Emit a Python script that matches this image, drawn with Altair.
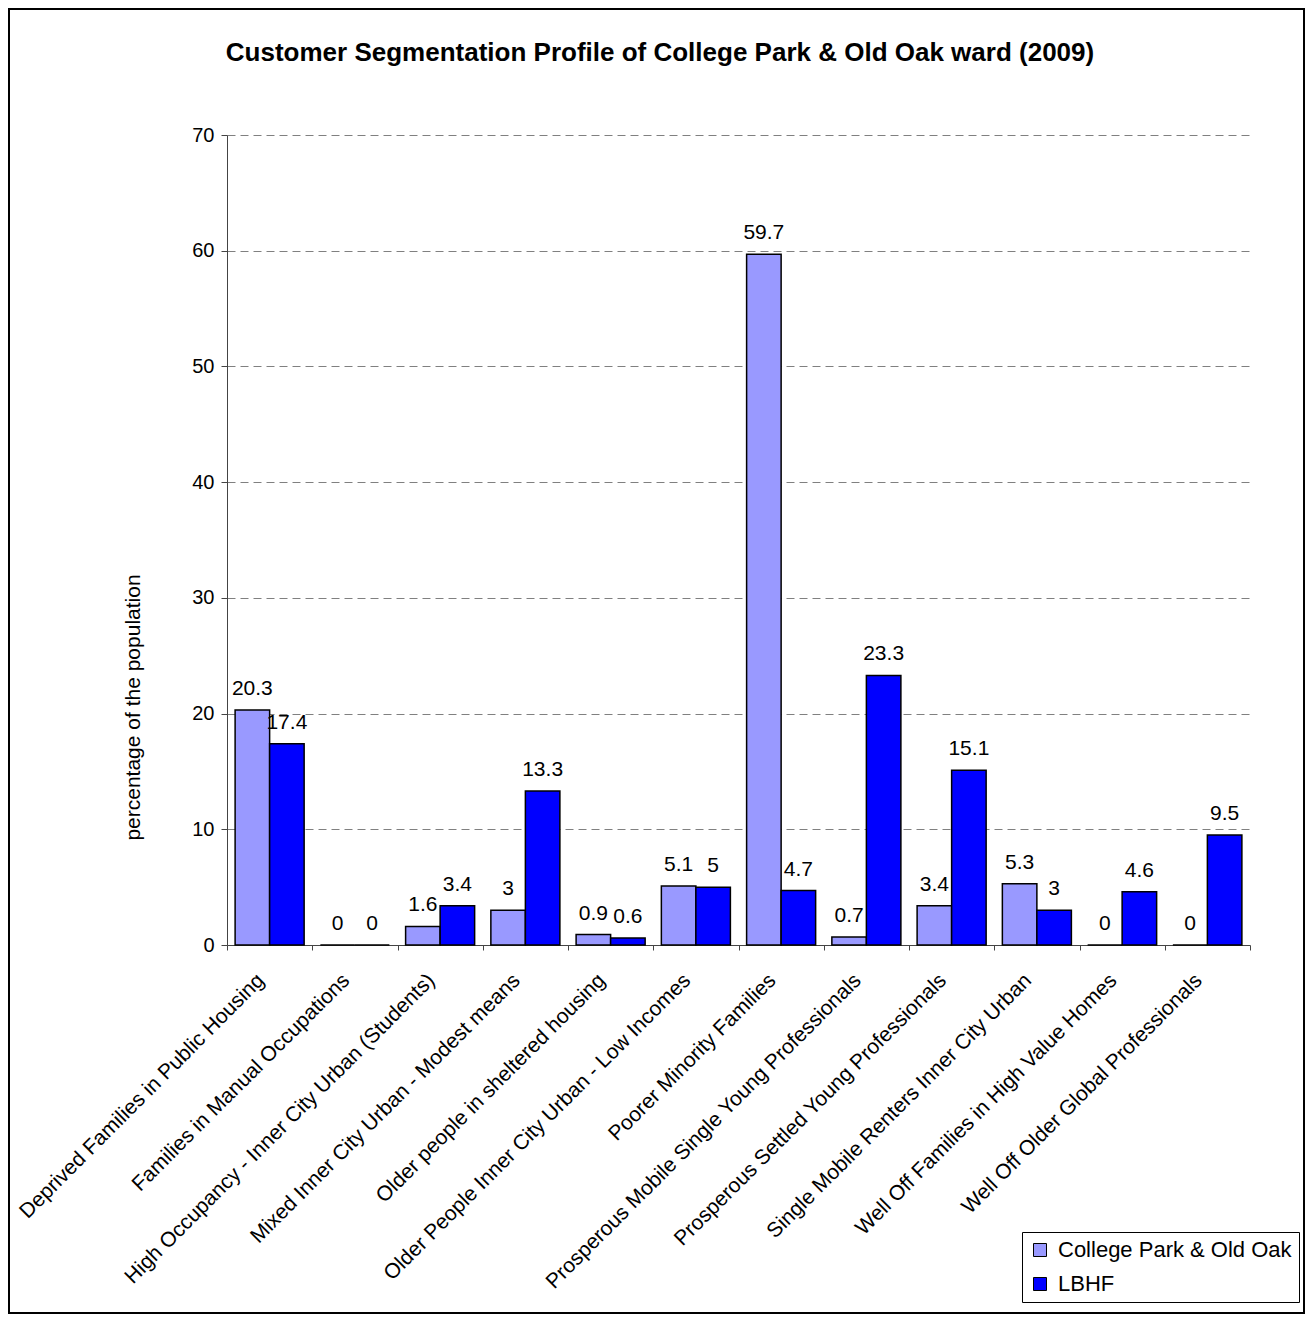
import altair as alt
import pandas as pd

categories = [
    "Deprived Families in Public Housing",
    "Families in Manual Occupations",
    "High Occupancy - Inner City Urban (Students)",
    "Mixed Inner City Urban - Modest means",
    "Older people in sheltered housing",
    "Older People Inner City Urban - Low Incomes",
    "Poorer Minority Families",
    "Prosperous Mobile Single Young Professionals",
    "Prosperous Settled Young Professionals",
    "Single Mobile Renters Inner City Urban",
    "Well Off Families in High Value Homes",
    "Well Off Older Global Professionals",
]
series_names = ["College Park & Old Oak", "LBHF"]
college_park = [20.3, 0, 1.6, 3, 0.9, 5.1, 59.7, 0.7, 3.4, 5.3, 0, 0]
lbhf = [17.4, 0, 3.4, 13.3, 0.6, 5, 4.7, 23.3, 15.1, 3, 4.6, 9.5]
y_ticks = [0, 10, 20, 30, 40, 50, 60, 70]
colors = ["#9999FF", "#0000FF"]
title_text = "Customer Segmentation Profile of College Park & Old Oak ward (2009)"
y_title = "percentage of the population"

rows = []
for i, c in enumerate(categories):
    for s, vals in zip(series_names, [college_park, lbhf]):
        v = vals[i]
        rows.append({"category": c, "series": s, "value": v, "label": f"{v:g}"})
df = pd.DataFrame(rows)

FONT = "Liberation Sans"

x_enc = alt.X(
    "category:N",
    sort=categories,
    title=None,
    scale=alt.Scale(paddingInner=0, paddingOuter=0),
    axis=alt.Axis(
        labelAngle=-45,
        labelAlign="right",
        labelBaseline="middle",
        labelPadding=27,
        labelOffset=-9,
        labelFontSize=21,
        labelFont=FONT,
        labelColor="black",
        tickBand="extent",
        tickSize=5,
        tickColor="#444444",
        domainColor="#444444",
        labelLimit=0,
        grid=False,
    ),
)
xoff = alt.XOffset(
    "series:N",
    sort=series_names,
    scale=alt.Scale(paddingOuter=0.235, paddingInner=0),
)
y_enc = alt.Y(
    "value:Q",
    scale=alt.Scale(domain=[0, 70], nice=False),
    axis=alt.Axis(
        values=y_ticks,
        title=y_title,
        titleFont=FONT,
        titleFontSize=21,
        titleFontWeight="normal",
        titleColor="black",
        titleX=-94,
        titleY=572,
        titleAngle=-90,
        titleAlign="center",
        titleBaseline="middle",
        labelFont=FONT,
        labelFontSize=20,
        labelColor="black",
        labelPadding=7,
        tickSize=6,
        tickColor="#444444",
        domainColor="#444444",
        gridColor="#808080",
        gridDash=[8, 5],
        gridWidth=1,
    ),
)

base = alt.Chart(df).encode(x=x_enc, xOffset=xoff)

bars = base.mark_bar(stroke="black", strokeWidth=1.5).encode(
    y=y_enc,
    color=alt.Color(
        "series:N",
        sort=series_names,
        scale=alt.Scale(domain=series_names, range=colors),
        legend=alt.Legend(
            title=None,
            orient="none",
            legendX=795,
            legendY=1097,
            symbolType="square",
            symbolSize=169,
            symbolStrokeColor="black",
            symbolStrokeWidth=1,
            labelFont=FONT,
            labelFontSize=22,
            labelColor="black",
            labelOffset=7,
            strokeColor="black",
            fillColor="white",
            padding=7,
            rowPadding=12,
            labelLimit=0,
        ),
    ),
)

labels = base.mark_text(
    font=FONT, fontSize=21, color="black", baseline="alphabetic", dy=-15
).encode(y=alt.Y("value:Q"), text="label:N")

single = pd.DataFrame({"a": [0]})

frame = alt.Chart(single).mark_rect(
    fillOpacity=0, stroke="black", strokeWidth=2
).encode(
    x=alt.value(-218), x2=alt.value(1077), y=alt.value(-126), y2=alt.value(1178)
)

title = alt.Chart(single).mark_text(
    font=FONT, fontSize=26, fontWeight="bold", color="black",
    align="center", baseline="alphabetic",
).encode(x=alt.value(433), y=alt.value(-74), text=alt.value(title_text))

chart = (
    alt.layer(bars, labels, frame, title)
    .properties(
        width=1023,
        height=810,
        autosize="none",
        padding={"left": 219, "top": 127, "right": 56, "bottom": 369},
        view=alt.ViewBackground(stroke="transparent", strokeWidth=0),
    )
    .configure_view(stroke="transparent", strokeWidth=0)
    .configure(background="white")
)

chart.save("out.html", embed_options={"renderer": "svg", "actions": False})
